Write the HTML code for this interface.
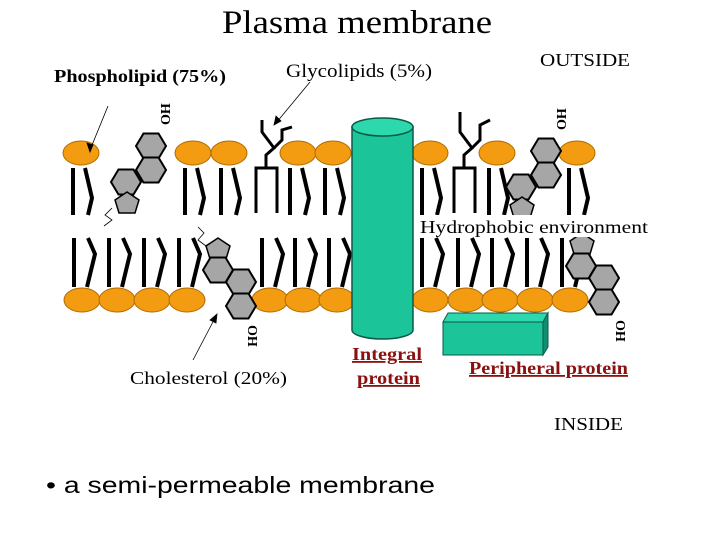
<!DOCTYPE html>
<html><head><meta charset="utf-8"><style>
html,body{margin:0;padding:0;background:#fff;width:720px;height:540px;overflow:hidden}
svg{display:block}
text{font-family:"Liberation Serif",serif}
</style></head><body>
<svg width="720" height="540" viewBox="0 0 720 540" xmlns="http://www.w3.org/2000/svg">
<defs>
<g id="tt"><line x1="-8" y1="168" x2="-8" y2="215" stroke="#000" stroke-width="4"/><polyline points="4,168 11,198 7,215" fill="none" stroke="#000" stroke-width="4"/></g>
<g id="bt"><line x1="-8" y1="238" x2="-8" y2="287" stroke="#000" stroke-width="4"/><polyline points="6,238 13,254 5,287" fill="none" stroke="#000" stroke-width="4"/></g>
<polygon id="hx" points="-15,0 -7.5,-12.5 7.5,-12.5 15,0 7.5,12.5 -7.5,12.5" fill="#a6a6a6" stroke="#000" stroke-width="2"/>
<polygon id="pt" points="0,-11 12,-3 8,10 -8,10 -12,-3" fill="#a6a6a6" stroke="#000" stroke-width="1.5"/>
</defs>
<text x="222" y="33" font-size="33" textLength="270" lengthAdjust="spacingAndGlyphs">Plasma membrane</text>
<text x="54" y="82" font-size="18" font-weight="bold" textLength="172" lengthAdjust="spacingAndGlyphs">Phospholipid (75%)</text>
<text x="286" y="77" font-size="19" textLength="146" lengthAdjust="spacingAndGlyphs">Glycolipids (5%)</text>
<text x="540" y="66" font-size="18" textLength="90" lengthAdjust="spacingAndGlyphs">OUTSIDE</text>
<text x="554" y="430" font-size="18" textLength="69" lengthAdjust="spacingAndGlyphs">INSIDE</text>
<text x="130" y="384" font-size="18" textLength="157" lengthAdjust="spacingAndGlyphs">Cholesterol (20%)</text>
<g>
<use href="#tt" x="81"/><use href="#tt" x="193"/><use href="#tt" x="229"/><use href="#tt" x="298"/><use href="#tt" x="333"/><use href="#tt" x="430"/><use href="#tt" x="497"/><use href="#tt" x="577"/>
</g>
<g>
<use href="#bt" x="82"/><use href="#bt" x="117"/><use href="#bt" x="152"/><use href="#bt" x="187"/><use href="#bt" x="270"/><use href="#bt" x="303"/><use href="#bt" x="337"/><use href="#bt" x="430"/><use href="#bt" x="466"/><use href="#bt" x="500"/><use href="#bt" x="535"/><use href="#bt" x="570"/>
</g>
<g fill="none" stroke="#000" stroke-width="3">
<polyline points="256,213 256,168 277,168 277,213"/>
<polyline points="266,168 266,155 274,148 262,132 262,120"/>
<polyline points="274,148 282,140 282,130 292,127"/>
<polyline points="454,213 454,168 475,168 475,213"/>
<polyline points="464,168 464,155 472,148 460,132 460,112"/>
<polyline points="472,148 480,140 480,125 490,120"/>
</g>
<g fill="#f39c12" stroke="#b06a00" stroke-width="1">
<ellipse cx="81" cy="153" rx="18" ry="12"/><ellipse cx="193" cy="153" rx="18" ry="12"/><ellipse cx="229" cy="153" rx="18" ry="12"/><ellipse cx="298" cy="153" rx="18" ry="12"/><ellipse cx="333" cy="153" rx="18" ry="12"/><ellipse cx="430" cy="153" rx="18" ry="12"/><ellipse cx="497" cy="153" rx="18" ry="12"/><ellipse cx="577" cy="153" rx="18" ry="12"/>
<ellipse cx="82" cy="300" rx="18" ry="12"/><ellipse cx="117" cy="300" rx="18" ry="12"/><ellipse cx="152" cy="300" rx="18" ry="12"/><ellipse cx="187" cy="300" rx="18" ry="12"/><ellipse cx="270" cy="300" rx="18" ry="12"/><ellipse cx="303" cy="300" rx="18" ry="12"/><ellipse cx="337" cy="300" rx="18" ry="12"/><ellipse cx="430" cy="300" rx="18" ry="12"/><ellipse cx="466" cy="300" rx="18" ry="12"/><ellipse cx="500" cy="300" rx="18" ry="12"/><ellipse cx="535" cy="300" rx="18" ry="12"/><ellipse cx="570" cy="300" rx="18" ry="12"/>
</g>
<use href="#hx" x="151" y="146"/><use href="#hx" x="151" y="170"/><use href="#hx" x="126" y="182"/><use href="#pt" x="127" y="203"/>
<polyline points="112,208 105,215 112,220 104,226" fill="none" stroke="#000" stroke-width="0.8"/>
<use href="#pt" x="218" y="249"/><use href="#hx" x="218" y="270"/><use href="#hx" x="241" y="282"/><use href="#hx" x="241" y="306"/>
<polyline points="206,246 198,240 204,233 198,227" fill="none" stroke="#000" stroke-width="0.8"/>
<use href="#hx" x="546" y="151"/><use href="#hx" x="546" y="175"/><use href="#hx" x="521" y="187"/><use href="#pt" x="522" y="208"/>
<use href="#pt" x="582" y="244"/><use href="#hx" x="581" y="266"/><use href="#hx" x="604" y="278"/><use href="#hx" x="604" y="302"/>
<text transform="translate(170,125) rotate(-90)" font-size="14" font-weight="bold">OH</text>
<text transform="translate(566,130) rotate(-90)" font-size="14" font-weight="bold">OH</text>
<text transform="translate(248,325) rotate(90)" font-size="14" font-weight="bold">OH</text>
<text transform="translate(616,320) rotate(90)" font-size="14" font-weight="bold">OH</text>
<path d="M352,127 L352,330 A30.5,9 0 0 0 413,330 L413,127 Z" fill="#1cc49a" stroke="#0a5a46" stroke-width="1.5"/>
<ellipse cx="382.5" cy="127" rx="30.5" ry="9" fill="#2ed8ad" stroke="#0a5a46" stroke-width="1.5"/>
<polygon points="443,322 448,313 548,313 543,322" fill="#2ed8ad" stroke="#0a5a46" stroke-width="1"/>
<polygon points="543,322 548,313 548,347 543,355" fill="#0f8f70" stroke="#0a5a46" stroke-width="1"/>
<rect x="443" y="322" width="100" height="33" fill="#1cc49a" stroke="#0a5a46" stroke-width="1"/>
<rect x="414" y="215" width="238" height="22" fill="#fff"/>
<text x="420" y="233" font-size="18" textLength="228" lengthAdjust="spacingAndGlyphs">Hydrophobic environment</text>
<text x="352" y="360" font-size="18" font-weight="bold" fill="#8b1010" text-decoration="underline" textLength="70" lengthAdjust="spacingAndGlyphs">Integral</text>
<text x="357" y="384" font-size="18" font-weight="bold" fill="#8b1010" text-decoration="underline" textLength="63" lengthAdjust="spacingAndGlyphs">protein</text>
<text x="469" y="374" font-size="18" font-weight="bold" fill="#8b1010" text-decoration="underline" textLength="159" lengthAdjust="spacingAndGlyphs">Peripheral protein</text>
<g stroke="#000" stroke-width="0.8" fill="#000">
<line x1="108" y1="106" x2="90" y2="150"/><polygon points="90,152 87,143 93,145"/>
<line x1="310" y1="82" x2="276" y2="123"/><polygon points="274,125 276,116 281,121"/>
<line x1="215" y1="318" x2="193" y2="360"/><polygon points="217,314 210,320 216,323"/>
</g>
<text x="46" y="493" font-size="23" textLength="389" lengthAdjust="spacingAndGlyphs" style="font-family:'Liberation Sans',sans-serif">• a semi-permeable membrane</text>
</svg>
</body></html>
